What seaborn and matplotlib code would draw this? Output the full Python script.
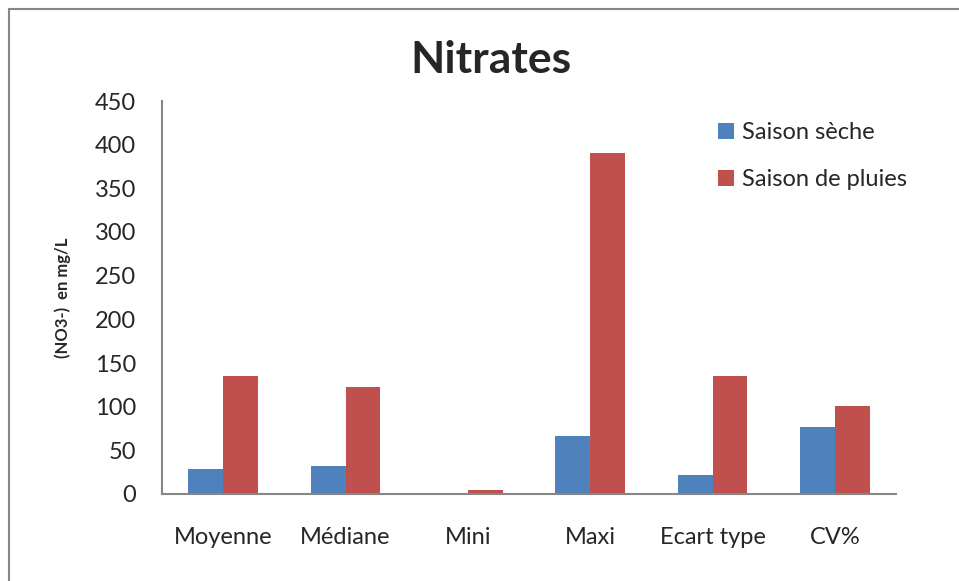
import matplotlib
matplotlib.use("Agg")
import matplotlib.pyplot as plt
import pandas as pd
import seaborn as sns
from matplotlib.lines import Line2D

categories = ["Moyenne", "Médiane", "Mini", "Maxi", "Ecart type", "CV%"]
saison_seche = [28.6, 31.7, 0.4, 66.4, 21.8, 77.1]
saison_pluies = [134.8, 122.9, 4.2, 390.6, 135.2, 100.4]
series = ["Saison sèche", "Saison de pluies"]
colors = ["#4F81BD", "#C0504D"]
yticks = list(range(0, 451, 50))

df = pd.DataFrame({
    "stat": categories * 2,
    "value": saison_seche + saison_pluies,
    "saison": [series[0]] * len(categories) + [series[1]] * len(categories),
})

sns.set_style("white")
plt.rcParams["font.family"] = ["Lato", "DejaVu Sans"]

fig = plt.figure(figsize=(9.59, 5.81), dpi=100)
ax = fig.add_axes([162 / 959, 1 - 494 / 581, (896 - 162) / 959, (494 - 101) / 581])

sns.barplot(df, x="stat", y="value", hue="saison", palette=colors, order=categories,
            width=0.57, saturation=1, edgecolor="none", ax=ax)

ax.set_ylim(0, 450)
ax.set_xlim(-0.5, len(categories) - 0.5)
ax.set_yticks(yticks)
ax.tick_params(axis="y", length=6.5, width=1.2, color="#868686", pad=12, labelsize=17)
ax.tick_params(axis="x", length=0, pad=24, labelsize=17)
for side in ["top", "right"]:
    ax.spines[side].set_visible(False)
for side in ["left", "bottom"]:
    ax.spines[side].set_color("#868686")
    ax.spines[side].set_linewidth(1.5)

ax.set_xlabel("")
ax.set_ylabel("(NO3-)  en mg/L", fontsize=12, fontweight="bold", labelpad=17)

leg = ax.legend(loc="upper left", bbox_to_anchor=(0.729, 1.0), frameon=False, fontsize=17,
                handlelength=0.65, handleheight=0.65, handletextpad=0.35, labelspacing=1.1)

fig.text(491 / 959, 1 - 60 / 581, "Nitrates", ha="center", va="center", fontsize=32, fontweight="bold")

# chart frame (left and top edges visible)
fig.add_artist(Line2D([8.5 / 959, 8.5 / 959], [0, 1 - 8.5 / 581], transform=fig.transFigure, color="#868686", lw=1.5))
fig.add_artist(Line2D([8.5 / 959, 1], [1 - 8.5 / 581, 1 - 8.5 / 581], transform=fig.transFigure, color="#868686", lw=1.5))

fig.savefig("out.png", dpi=100)
